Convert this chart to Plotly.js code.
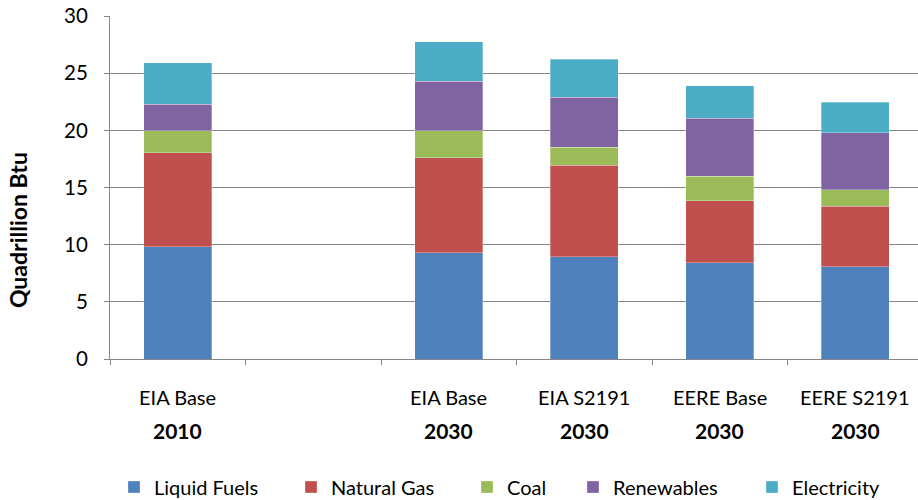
<!DOCTYPE html>
<html>
<head>
<meta charset="utf-8">
<script src="https://cdn.plot.ly/plotly-3.0.1.min.js"></script>
<style>html,body{margin:0;padding:0;background:#fff;}#chart{width:918px;height:500px;}</style>
</head>
<body>
<div id="chart"></div>
<script>
var scenarios = ["EIA Base", "", "EIA Base", "EIA S2191", "EERE Base", "EERE S2191"];
var years = ["2010", "", "2030", "2030", "2030", "2030"];
var categoryKeys = ["EIA Base 2010", "gap", "EIA Base 2030", "EIA S2191 2030", "EERE Base 2030", "EERE S2191 2030"];

var liquidFuels = [9.8, null, 9.3, 8.95, 8.4, 8.05];
var naturalGas  = [8.25, null, 8.3, 8.0, 5.45, 5.3];
var coal        = [1.9, null, 2.35, 1.55, 2.15, 1.45];
var renewables  = [2.35, null, 4.35, 4.4, 5.05, 5.0];
var electricity = [3.6, null, 3.45, 3.3, 2.85, 2.65];

var seriesNames = ["Liquid Fuels", "Natural Gas", "Coal", "Renewables", "Electricity"];
var seriesValues = [liquidFuels, naturalGas, coal, renewables, electricity];
var seriesColors = ["#4F81BD", "#C0504D", "#9BBB59", "#8064A2", "#4BACC6"];

var FONT = "Lato, Carlito, Calibri, sans-serif";
var legendLeft = [134, 311, 487, 593, 772];

var traces = seriesNames.map(function (name, i) {
  return {
    type: "bar",
    name: name,
    x: categoryKeys,
    y: seriesValues[i],
    width: 0.5,
    legend: i === 0 ? "legend" : "legend" + (i + 1),
    marker: { color: seriesColors[i], line: { color: "rgba(255,255,255,0.6)", width: 0.5 } },
    hoverinfo: "name+y"
  };
});

var annotations = [];
categoryKeys.forEach(function (k, i) {
  if (scenarios[i]) {
    annotations.push({ x: k, xref: "x", y: -0.11, yref: "paper", yanchor: "middle", text: scenarios[i], showarrow: false, font: { family: FONT, size: 20, color: "#000" } });
  }
  if (years[i]) {
    annotations.push({ x: k, xref: "x", y: -0.207, yref: "paper", yanchor: "middle", text: "<b>" + years[i] + "</b>", showarrow: false, font: { family: FONT, size: 21, color: "#000" } });
  }
});
annotations.push({
  text: "<b>Quadrillion Btu</b>", textangle: -90, showarrow: false,
  xref: "paper", x: -0.113, xanchor: "center",
  yref: "paper", y: 0.375, yanchor: "middle",
  font: { family: FONT, size: 23, color: "#000" }
});

var layout = {
  width: 918, height: 500,
  margin: { l: 110, r: 0, t: 16, b: 141 },
  paper_bgcolor: "#fff", plot_bgcolor: "#fff",
  barmode: "stack",
  font: { family: FONT, size: 20, color: "#000" },
  xaxis: {
    type: "category",
    categoryorder: "array",
    categoryarray: categoryKeys,
    range: [-0.5, 5.463],
    showticklabels: false,
    ticks: "outside", tickson: "boundaries", ticklen: 5, tickcolor: "#868686",
    showline: true, linecolor: "#868686", linewidth: 1,
    showgrid: false, zeroline: false, fixedrange: true
  },
  yaxis: {
    range: [0, 30], dtick: 5, tick0: 0,
    ticks: "outside", ticklen: 5, tickcolor: "#868686",
    showline: true, linecolor: "#868686", linewidth: 1,
    showgrid: true, gridcolor: "#868686", gridwidth: 1,
    zeroline: false, ticklabelstandoff: 12,
    tickfont: { family: FONT, size: 20.5, color: "#000" }
  },
  annotations: annotations,
  showlegend: true
};

legendLeft.forEach(function (px, i) {
  var key = i === 0 ? "legend" : "legend" + (i + 1);
  layout[key] = {
    orientation: "h", xref: "container", x: (px - 20) / 918, xanchor: "left",
    yref: "container", y: 0.026, yanchor: "middle",
    font: { family: FONT, size: 20, color: "#000" },
    itemwidth: 30, bgcolor: "rgba(0,0,0,0)"
  };
});

Plotly.newPlot("chart", traces, layout, { displayModeBar: false, staticPlot: true });
</script>
</body>
</html>
